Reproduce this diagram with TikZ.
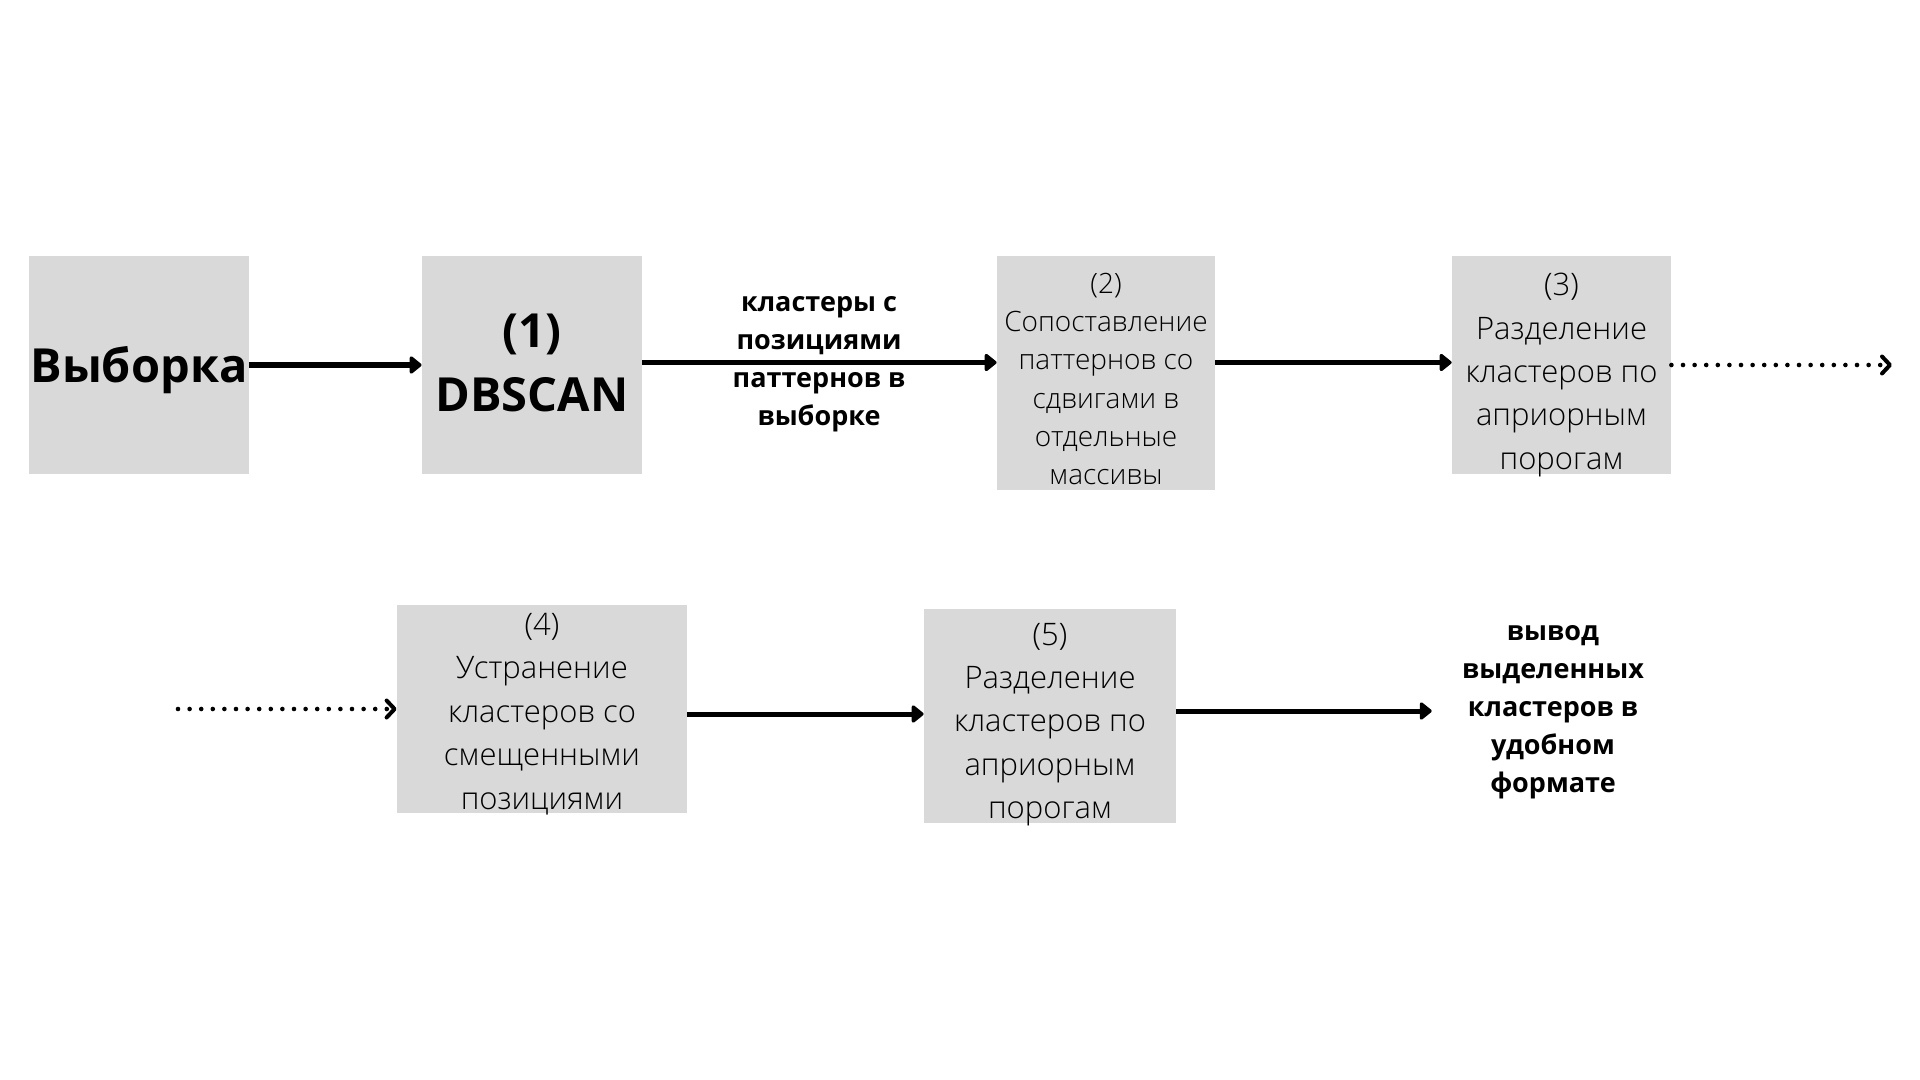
\documentclass[tikz,border=0pt]{standalone}
\usepackage{fontspec}
\setmainfont{Open Sans}
\newfontfamily\lightfont{Open Sans Light}
\usetikzlibrary{arrows.meta,calc}
\definecolor{boxgray}{HTML}{D9D9D9}
\tikzset{
  box/.style={fill=boxgray, inner sep=0pt},
  txt/.style={align=center, text=black, inner sep=0pt},
  arr/.style={line width=2.5pt, -{Triangle[length=6.5pt,width=10pt,round]}},
  dotarr/.style={line width=2.3pt, line cap=round, dash pattern=on 0pt off 5.8pt,
     -{Straight Barb[length=4pt,width=8.5pt,line width=2pt,round]}},
  boldtxt/.style={txt, font=\bfseries\fontsize{13.5}{19}\selectfont},
  bigtxt/.style={txt, font=\bfseries\fontsize{23.5}{32}\selectfont},
  lighttxt/.style={txt, font=\lightfont\fontsize{14}{19.1}\selectfont},
  lighttxtb/.style={txt, font=\lightfont\fontsize{15.5}{21.7}\selectfont},
}
\begin{document}
\begin{tikzpicture}[x=0.5pt,y=-0.5pt]
\useasboundingbox (0,0) rectangle (1920,1080);
% row 1 boxes
\node[box, minimum width=110pt, minimum height=109pt] (b1) at (139,365) {};
\node[box, minimum width=110pt, minimum height=109pt] (b2) at (532,365) {};
\node[box, minimum width=109pt, minimum height=117pt] (b3) at (1106,373) {};
\node[box, minimum width=109.5pt, minimum height=109pt] (b4) at (1561.5,365) {};
% row 1 texts
\node[bigtxt] (t1) at (139,370) {Выборка};
\node[bigtxt] (t2) at (532,363) {(1)\\DBSCAN};
\node[lighttxt] (t3) at (1106,379)
  {(2)\\Сопоставление\\паттернов со\\сдвигами в\\отдельные\\массивы};
\node[lighttxtb] (t4) at (1561.5,375)
  {(3)\\Разделение\\кластеров по\\априорным\\порогам};
\node[boldtxt] (lbl) at (819,364) {кластеры с\\позициями\\паттернов в\\выборке};
\coordinate (d1end) at (1892,365);
% row 2 boxes
\coordinate (d2start) at (178,709);
\node[box, minimum width=145pt, minimum height=104pt] (b5) at (542,709) {};
\node[box, minimum width=126pt, minimum height=107pt] (b6) at (1050,716) {};
% row 2 texts
\node[lighttxtb] (t5) at (542,714)
  {(4)\\Устранение\\кластеров со\\смещенными\\позициями};
\node[lighttxtb] (t6) at (1050,724.5)
  {(5)\\Разделение\\кластеров по\\априорным\\порогам};
\node[boldtxt, inner xsep=15pt] (out) at (1553,712.5)
  {вывод\\выделенных\\кластеров в\\удобном\\формате};
% connectors
\draw[arr] (b1.east) -- (b1.east -| b2.west);
\draw[arr] ([yshift=1.25pt]b2.east) -- ([yshift=1.25pt]b2.east -| b3.west);
\draw[arr] ([yshift=1.25pt]b4.west -| b3.east) -- ([yshift=1.25pt]b4.west);
\draw[dotarr] (b4.east) -- (d1end);
\draw[dotarr] (d2start) -- (b5.west);
\draw[arr] ([yshift=-2.5pt]b5.east) -- ([yshift=-2.5pt]b5.east -| b6.west);
\draw[arr] ([yshift=2.5pt]b6.east) -- ([yshift=2.5pt]b6.east -| out.west);
\end{tikzpicture}
\end{document}
